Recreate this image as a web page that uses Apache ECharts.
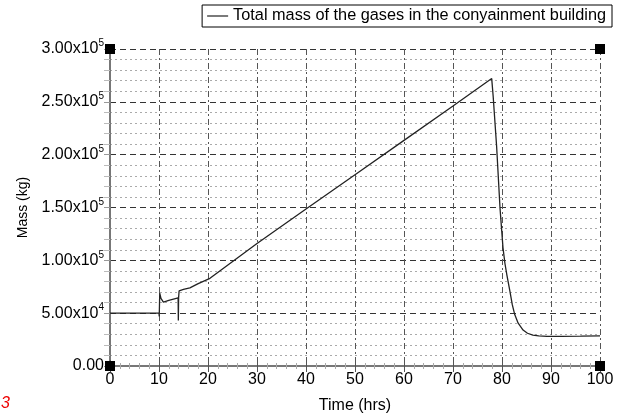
<!DOCTYPE html>
<html>
<head>
<meta charset="utf-8">
<script src="https://cdn.jsdelivr.net/npm/echarts@6/dist/echarts.min.js"></script>
<style>html,body{margin:0;padding:0;background:#fff}#c{width:625px;height:419px}</style>
</head>
<body>
<div id="c"></div>
<script>
const seriesName = 'Total mass of the gases in the conyainment building';
const timeHrs = [0, 10, 10.05, 10.15, 10.4, 10.9, 12, 13.9, 13.95, 14.0, 14.1, 14.3, 15, 16.3, 18, 20.4, 30, 40, 50, 60, 70, 77.9, 78.2, 78.9, 79.6, 80.2, 80.6, 81, 81.6, 82.1, 82.6, 83.3, 84.3, 85.2, 86.3, 87.5, 89.2, 92, 96, 100];
const massKg = [50000, 50000, 47000, 69000, 64000, 60500, 62000, 64500, 43000, 64500, 71000, 71500, 72500, 74000, 78000, 83000, 116000, 148500, 181000, 213500, 246000, 272000, 255000, 208000, 149000, 112000, 97000, 86000, 71000, 58000, 48700, 40500, 34000, 31000, 29300, 28500, 28000, 28000, 28200, 28500];
const xTicks = [0, 10, 20, 30, 40, 50, 60, 70, 80, 90, 100];
const corners = [[0, 0], [100, 0], [0, 300000], [100, 300000]];

const font = 'Liberation Sans, Arial, sans-serif';
function yLabel(v) {
  if (v === 0) return '0.00';
  const e = Math.floor(Math.log10(v));
  const m = (v / Math.pow(10, e)).toFixed(2);
  return '{m|' + m + 'x10}{s|' + e + '}';
}
const chart = echarts.init(document.getElementById('c'), null, {renderer: 'canvas'});
const xData = timeHrs.map((t, i) => [t, massKg[i]]);
chart.setOption({
  animation: false,
  textStyle: {fontFamily: font},
  grid: {left: 110, right: 25, top: 49, bottom: 50},
  legend: {
    right: 13, top: 5,
    data: [{name: seriesName, icon: 'rect'}],
    backgroundColor: '#fff',
    borderColor: '#000', borderWidth: 1, borderRadius: 0,
    padding: [3, 6, 3, 5],
    itemWidth: 21, itemHeight: 1.2, itemGap: 8,
    textStyle: {fontSize: 16.3, color: '#000', fontFamily: font}
  },
  xAxis: [{
    type: 'value', min: 0, max: 100, interval: 10,
    name: 'Time (hrs)', nameLocation: 'middle', nameGap: 32,
    nameTextStyle: {fontSize: 16, color: '#000', fontFamily: font},
    axisLine: {show: true, lineStyle: {color: '#777', width: 2}},
    axisTick: {show: true, inside: true, length: 6, lineStyle: {color: '#555'}},
    minorTick: {show: true, splitNumber: 5, length: 3, lineStyle: {color: '#aaa'}},
    axisLabel: {fontSize: 16, color: '#000', margin: 6, fontFamily: font,
      customValues: xTicks},
    splitLine: {show: true, lineStyle: {color: '#555', type: [6, 3, 2, 3], width: 1}}
  }, {
    type: 'value', min: 0, max: 100, interval: 10, position: 'top',
    axisLine: {show: true, lineStyle: {color: '#777', width: 2}},
    axisTick: {show: true, inside: true, length: 6, lineStyle: {color: '#555'}},
    minorTick: {show: true, splitNumber: 5, length: 3, lineStyle: {color: '#aaa'}},
    axisLabel: {show: false}, splitLine: {show: false}
  }],
  yAxis: [{
    type: 'value', min: 0, max: 300000, interval: 50000,
    name: 'Mass (kg)', nameLocation: 'middle', nameGap: 80, nameRotate: 90,
    nameTextStyle: {fontSize: 14, color: '#000', fontFamily: font},
    axisLine: {show: true, lineStyle: {color: '#777', width: 2}},
    axisTick: {show: false},
    axisLabel: {
      color: '#000', margin: 6, formatter: yLabel, fontSize: 16, fontFamily: font,
      rich: {
        m: {fontSize: 16, color: '#000', fontFamily: font},
        s: {fontSize: 10, color: '#000', fontFamily: font, verticalAlign: 'top', padding: [0, 0, 11, 0]}
      }
    },
    splitLine: {show: true, lineStyle: {color: '#333', type: [6, 4], width: 1}},
    minorTick: {show: false, splitNumber: 5},
    minorSplitLine: {show: true, lineStyle: {color: '#aaa', type: [2, 3], width: 1}}
  }, {
    type: 'value', min: 0, max: 300000, interval: 50000, position: 'right',
    axisLine: {show: true, lineStyle: {color: '#777', width: 2}},
    axisTick: {show: true, inside: true, length: 6, lineStyle: {color: '#999'}},
    minorTick: {show: true, splitNumber: 5, length: 6, lineStyle: {color: '#bbb'}},
    axisLabel: {show: false}, splitLine: {show: false}
  }],
  series: [{
    name: seriesName, type: 'line', data: xData,
    symbol: 'none', showSymbol: false,
    lineStyle: {color: '#222', width: 1.3},
    itemStyle: {color: '#222'}, z: 5
  }, {
    name: 'corners', type: 'scatter', data: corners,
    symbol: 'rect', symbolSize: 10, itemStyle: {color: '#000', opacity: 1},
    clip: false, z: 10, silent: true
  }],
  graphic: [{
    type: 'text', left: 1, top: 396,
    style: {text: '3', fill: '#e00', fontSize: 16, fontStyle: 'italic', fontFamily: font}
  }]
});
</script>
</body>
</html>
